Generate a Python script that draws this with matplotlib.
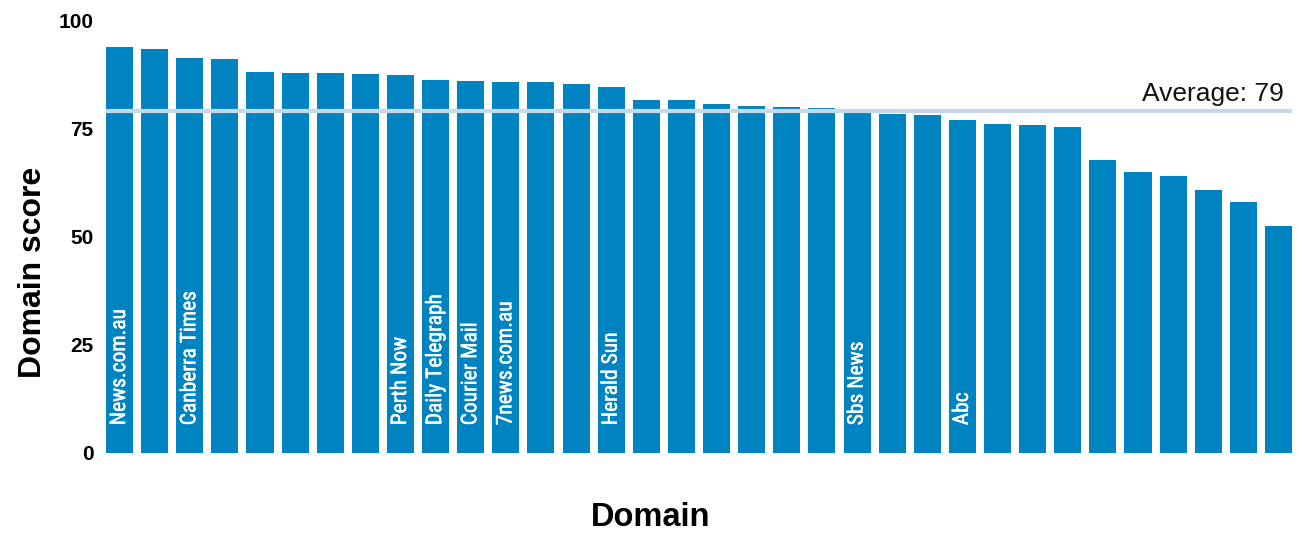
from matplotlib import pyplot as plt
import matplotlib.patheffects as pe
import numpy as np

# domain scores, sorted high to low
scores = [93.8, 93.3, 91.2, 91.0, 88.0, 87.8, 87.8, 87.5, 87.3, 86.1,
          85.9, 85.7, 85.7, 85.2, 84.5, 81.5, 81.5, 80.6, 80.1, 79.9,
          79.7, 78.5, 78.3, 78.1, 76.9, 76.0, 75.8, 75.3, 67.7, 64.9,
          64.0, 60.7, 58.0, 52.4]
# only some bars carry a name
names = ['News.com.au', '', 'Canberra Times', '', '', '', '', '', 'Perth Now', 'Daily Telegraph',
         'Courier Mail', '7news.com.au', '', '', 'Herald Sun', '', '', '', '', '',
         '', 'Sbs News', '', '', 'Abc', '', '', '', '', '',
         '', '', '', '']
average = 79
yticks = [0, 25, 50, 75, 100]

bar_color = '#0083c1'
avg_color = '#c6d9ec'
fam = ['Liberation Sans', 'DejaVu Sans']

fig = plt.figure(figsize=(12.97, 5.35), dpi=100)
ax = fig.add_axes([106/1297, 82/535, 1186/1297, 433/535])

x = np.arange(len(scores))
ax.bar(x, scores, width=0.77, color=bar_color, zorder=2)
ax.axhline(average, color=avg_color, lw=3, zorder=3)
ax.text(len(scores) - 0.85, average + 2.3, 'Average: %d' % average, ha='right', va='baseline',
        fontsize=19, color='#111111', family=fam)

for xi, nm in zip(x, names):
    if nm:
        ax.text(xi, 6.4, nm, rotation=90, ha='center', va='bottom', color='white',
                fontsize=15.5,
                family=['Liberation Sans Narrow', 'Roboto Condensed', 'Liberation Sans'],
                path_effects=[pe.withStroke(linewidth=0.3, foreground='white')],
                zorder=4)

ax.set_xlim(-0.385, len(scores) - 0.615)
ax.set_ylim(0, 100)
ax.set_yticks(yticks)
ax.set_yticklabels([str(t) for t in yticks], fontsize=15, fontweight='bold', family=fam)
ax.tick_params(axis='y', length=0, pad=9)
ax.set_xticks([])
for s in ax.spines.values():
    s.set_visible(False)

fig.text(33/1297, 1 - 272/535, 'Domain score', rotation=90, ha='center', va='center',
         fontsize=23, fontweight='bold', family=fam)
fig.text(651/1297, 1 - 518/535, 'Domain', ha='center', va='center',
         fontsize=23.5, fontweight='bold', family=fam)

fig.savefig('out.png', dpi=100)
